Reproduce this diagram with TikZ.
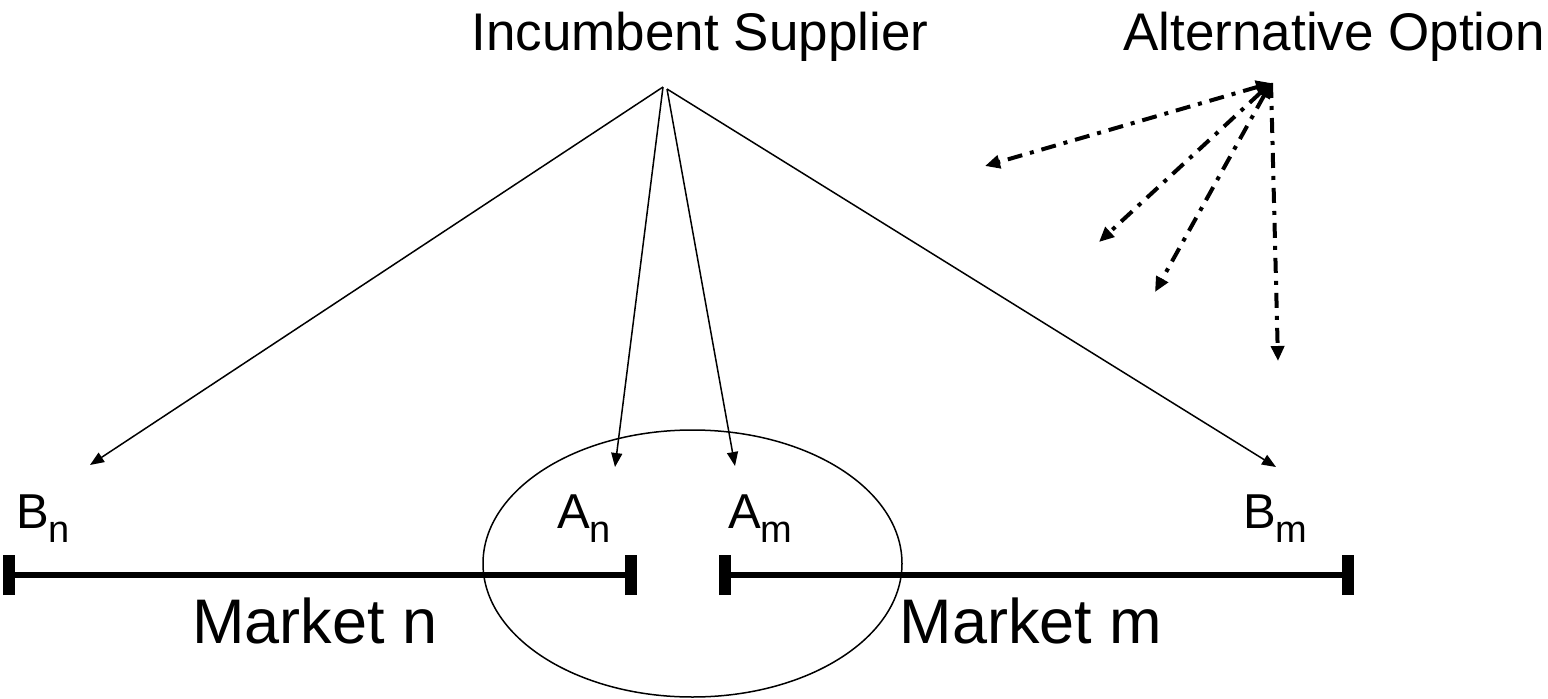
\documentclass[tikz,border=0pt]{standalone}
\usepackage{fontspec}
\setmainfont{Liberation Sans}
\usetikzlibrary{arrows.meta,shapes.geometric}
\tikzset{
  big/.style={font=\fontsize{53}{60}\selectfont, inner sep=0pt, anchor=base},
  mkt/.style={font=\fontsize{63}{70}\selectfont, inner sep=0pt, anchor=base},
  lbl/.style={font=\fontsize{49}{55}\selectfont, inner sep=0pt, anchor=base west},
  thinarr/.style={line width=1.5pt, -{Triangle[length=14pt,width=11pt]}},
  dd/.style={line width=4pt, dash pattern=on 15pt off 8pt on 4pt off 8pt},
  altarr/.style={dd,
     {Triangle[length=15pt,width=13pt]}-{Triangle[length=15pt,width=13pt]}},
  altarr1/.style={dd,
     -{Triangle[length=15pt,width=13pt]}},
  bar/.style={line width=6pt},
  tick/.style={line width=12pt}
}
\newcommand{\sbs}[1]{\raisebox{-14pt}{\fontsize{38}{40}\selectfont #1}}
\begin{document}
\begin{tikzpicture}[x=1pt,y=-1pt]
\useasboundingbox (0,0) rectangle (1548,699);
% texts
\node[big] (inc) at (700,50) {Incumbent Supplier};
\node[big] (alt) at (1334,50) {Alternative Option};
\node[mkt] (mn) at (315,643) {Market n};
\node[mkt] (mm) at (1031,643) {Market m};
\node[lbl] (bn) at (16,528) {B\sbs{n}};
\node[lbl] (an) at (557,528) {A\sbs{n}};
\node[lbl] (am) at (728,528) {A\sbs{m}};
\node[lbl] (bm) at (1243,528) {B\sbs{m}};
% ellipse
\node[draw, line width=1.5pt, ellipse, minimum width=419pt, minimum height=267pt, inner sep=0pt] (ell) at (692.5,563.5) {};
% bars
\coordinate (l1) at (9,575);
\coordinate (l2) at (631,575);
\coordinate (r1) at (725,575);
\coordinate (r2) at (1348,575);
\draw[bar] (l1) -- (l2);
\draw[bar] (r1) -- (r2);
\draw[tick] ([yshift=-20pt]l1) -- ([yshift=20pt]l1);
\draw[tick] ([yshift=-20pt]l2) -- ([yshift=20pt]l2);
\draw[tick] ([yshift=-20pt]r1) -- ([yshift=20pt]r1);
\draw[tick] ([yshift=-20pt]r2) -- ([yshift=20pt]r2);
% incumbent arrows
\coordinate (src) at (663,87);
\coordinate (src2) at (667,89);
\coordinate (tbn) at (90,465);
\coordinate (tan) at (615,467);
\coordinate (tam) at (735,466);
\coordinate (tbm) at (1276,467);
\draw[thinarr] (src) -- (tbn);
\draw[thinarr] (src) -- (tan);
\draw[thinarr] (src2) -- (tam);
\draw[thinarr] (src2) -- (tbm);
% alternative arrows
\coordinate (aop) at (1271,83);
\coordinate (a1) at (985,166);
\coordinate (a2) at (1099,242);
\coordinate (a3) at (1155,292);
\coordinate (a4) at (1278,361);
\draw[altarr] (aop) -- (a1);
\draw[altarr] (aop) -- (a2);
\draw[altarr] (aop) -- (a3);
\draw[altarr1] (aop) -- (a4);
\end{tikzpicture}
\end{document}
